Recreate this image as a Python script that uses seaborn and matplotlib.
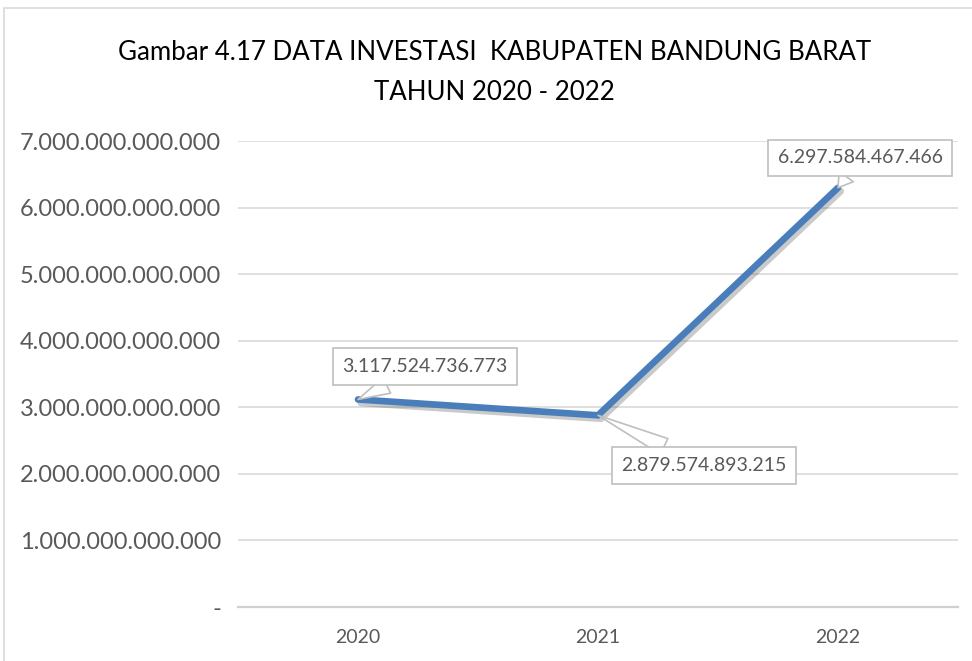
import matplotlib
matplotlib.use("Agg")
import matplotlib.pyplot as plt
import matplotlib.patheffects as pe
from matplotlib.patches import Rectangle
from matplotlib.ticker import FuncFormatter
import seaborn as sns
import pandas as pd

years = ["2020", "2021", "2022"]
investasi = [3117524736773, 2879574893215, 6297584467466]
label_offsets = [(67, 33), (106, -50), (22, 30)]  # text offset in pixels from each point

sns.set_theme(style="white")
plt.rcParams["font.family"] = ["Lato", "DejaVu Sans"]

df = pd.DataFrame({"tahun": years, "nilai": investasi})
df["pos"] = range(len(years))

fig = plt.figure(figsize=(9.72, 6.61), dpi=100)
ax = fig.add_axes([238 / 972, 54 / 661, 720 / 972, 466 / 661])

# outer chart frame
fig.patches.append(Rectangle((4 / 972, -0.05), 1.1, 1 - 8 / 661 + 0.05,
                             transform=fig.transFigure, fill=False,
                             edgecolor="#d9d9d9", linewidth=1.2, zorder=0))

sns.lineplot(data=df, x="pos", y="nilai", ax=ax, color="#4a7ebb",
             linewidth=4.8, solid_capstyle="round", solid_joinstyle="miter",
             path_effects=[pe.SimpleLineShadow(offset=(2, -2.5), alpha=0.28,
                                               shadow_color="#444444"),
                           pe.Normal()],
             zorder=3)

ax.set_xlim(-0.5, 2.5)
ax.set_ylim(0, 7e12)
ax.set_yticks([i * 1e12 for i in range(8)])
ax.set_xticks(df["pos"])
ax.set_xticklabels(years)


def fmt(v, _):
    if v == 0:
        return "-"
    return f"{int(round(v)):,}".replace(",", ".")


ax.yaxis.set_major_formatter(FuncFormatter(fmt))
ax.grid(axis="y", color="#d9d9d9", linewidth=1.2)
ax.set_axisbelow(True)
for s in ["top", "right", "left"]:
    ax.spines[s].set_visible(False)
ax.spines["bottom"].set_color("#d0d0d0")
ax.spines["bottom"].set_linewidth(1.6)
ax.tick_params(axis="y", length=0, pad=12, labelsize=17, labelcolor="#595959")
ax.tick_params(axis="x", length=0, pad=16, labelsize=14, labelcolor="#595959")
ax.set_xlabel("")
ax.set_ylabel("")

for x, y, (dx, dy) in zip(df["pos"], df["nilai"], label_offsets):
    ax.annotate(fmt(y, None), xy=(x, y), xytext=(dx, dy),
                textcoords="offset pixels", ha="center", va="center",
                fontsize=14, color="#595959",
                bbox=dict(boxstyle="square,pad=0.5", fc="white",
                          ec="#bfbfbf", lw=1.2),
                arrowprops=dict(arrowstyle="wedge,tail_width=0.9,shrink_factor=0.5",
                                fc="white", ec="#bfbfbf", lw=1.2,
                                shrinkA=0, shrinkB=0),
                zorder=5)

fig.text(0.509, 1 - 52 / 661, "Gambar 4.17 DATA INVESTASI  KABUPATEN BANDUNG BARAT",
         ha="center", va="center", fontsize=18.6, color="black")
fig.text(0.509, 1 - 93 / 661, "TAHUN 2020 - 2022",
         ha="center", va="center", fontsize=18.6, color="black")

fig.savefig("out.png", dpi=100, facecolor="white")
